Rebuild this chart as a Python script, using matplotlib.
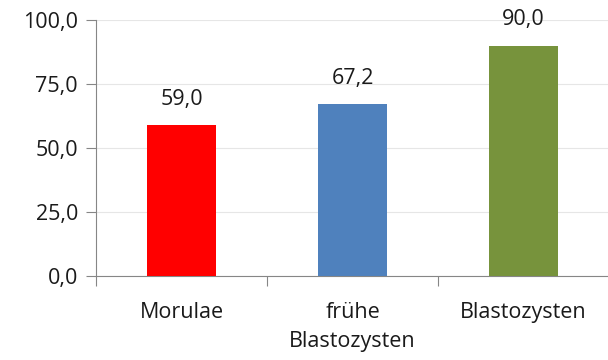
import matplotlib.pyplot as plt
import numpy as np

# data
categories = ["Morulae", "frühe\nBlastozysten", "Blastozysten"]
values = [59.0, 67.2, 90.0]
colors = ["#ff0000", "#4f81bd", "#77933c"]
yticks = [0, 25, 50, 75, 100]

plt.rcParams['font.family'] = ['Open Sans', 'DejaVu Sans']
fs = 15.5

fig = plt.figure(figsize=(6.08, 3.6), dpi=100)
ax = fig.add_axes([96/608, 84/360, 513/608, 256/360])

x = np.arange(len(categories))
bars = ax.bar(x, values, width=0.4, color=colors, zorder=3)

for xi, v in zip(x, values):
    ax.annotate(f"{v:.1f}".replace(".", ","), (xi, v), xytext=(0, 11),
                textcoords="offset points", ha="center", va="bottom",
                fontsize=fs, color="#1a1a1a")

ax.set_xlim(-0.5, 2.5)
ax.set_ylim(0, 100)
ax.set_yticks(yticks)
ax.set_yticklabels([f"{t:.1f}".replace(".", ",") for t in yticks], fontsize=fs, color="#1a1a1a")
ax.yaxis.grid(True, color="#e6e6e6", linewidth=0.8, zorder=0)

# category labels between boundary ticks
ax.set_xticks([-0.5, 0.5, 1.5, 2.5])
ax.set_xticklabels([])
ax.set_xticks(x, minor=True)
ax.set_xticklabels(categories, minor=True, fontsize=fs, color="#1a1a1a", va="top",
                   linespacing=1.45)
ax.tick_params(axis="x", which="minor", length=0, pad=19)
ax.tick_params(axis="x", which="major", length=7, color="#868686", direction="out")
ax.tick_params(axis="y", length=7, color="#868686", pad=6)

for s in ["top", "right"]:
    ax.spines[s].set_visible(False)
for s in ["left", "bottom"]:
    ax.spines[s].set_color("#868686")

fig.savefig("out.png", dpi=100)
